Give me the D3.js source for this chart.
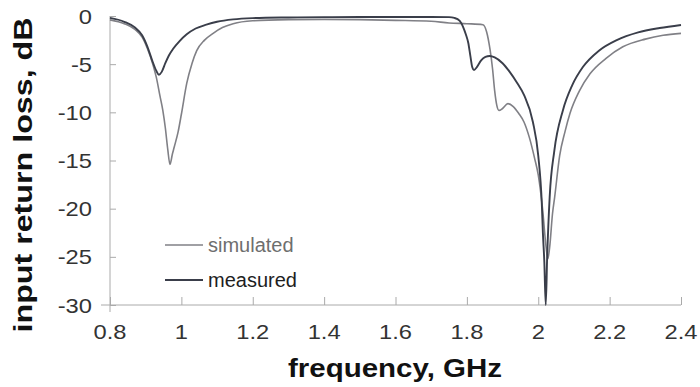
<!DOCTYPE html>
<html>
<head>
<meta charset="utf-8">
<script src="https://cdn.jsdelivr.net/npm/d3@7"></script>
<style>
  html, body { margin: 0; padding: 0; background: #fff; }
  svg { display: block; }
  text { font-family: "Liberation Sans", Arial, Helvetica, sans-serif; }
</style>
</head>
<body>
<svg id="chart" width="700" height="387"></svg>
<script>
// Input return loss (dB) versus frequency (GHz)
const simFreq = [0.80, 0.84, 0.87, 0.89, 0.905, 0.92, 0.93, 0.94, 0.948, 0.955, 0.962, 0.968,
  0.975, 0.98, 0.991, 1.0, 1.015, 1.03, 1.043, 1.065, 1.089, 1.115, 1.145, 1.2, 1.3, 1.4, 1.5,
  1.6, 1.7, 1.75, 1.8, 1.845, 1.855, 1.865, 1.872, 1.878, 1.884, 1.89, 1.90, 1.915, 1.93, 1.945,
  1.96, 1.975, 1.99, 2.0, 2.012, 2.022, 2.027, 2.032, 2.04, 2.046, 2.06, 2.075, 2.089, 2.115,
  2.145, 2.19, 2.237, 2.3, 2.35, 2.4];
const simValues = [-0.4, -0.8, -1.4, -2.2, -3.4, -5.0, -6.4, -8.3, -9.8, -11.6, -13.9, -15.4,
  -14.3, -13.6, -12.0, -10.2, -7.0, -4.9, -3.6, -2.5, -1.8, -1.2, -0.8, -0.5, -0.38, -0.35, -0.38,
  -0.45, -0.55, -0.72, -0.8, -0.9, -1.6, -3.5, -5.5, -7.8, -9.3, -9.8, -9.6, -9.1, -9.4, -10.1,
  -11.0, -12.6, -14.8, -16.5, -20, -24, -25.2, -24, -20.5, -18.8, -14.5, -12, -10.1, -7.8,
  -6.0, -4.4, -3.2, -2.4, -2.0, -1.8];

const measFreq = [0.80, 0.84, 0.87, 0.89, 0.905, 0.92, 0.93, 0.937, 0.945, 0.955, 0.965, 0.977,
  0.995, 1.015, 1.04, 1.07, 1.10, 1.145, 1.20, 1.30, 1.40, 1.50, 1.60, 1.70, 1.75, 1.765, 1.78,
  1.789, 1.797, 1.804, 1.81, 1.815, 1.82, 1.828, 1.84, 1.852, 1.864, 1.878, 1.90, 1.92, 1.94,
  1.96, 1.985, 2.0, 2.01, 2.013, 2.017, 2.021, 2.025, 2.032, 2.045, 2.069, 2.095, 2.125, 2.17,
  2.22, 2.28, 2.34, 2.4];
const measValues = [-0.2, -0.6, -1.2, -2.0, -3.2, -4.8, -5.7, -6.1, -5.8, -4.9, -4.1, -3.4,
  -2.6, -1.9, -1.3, -0.9, -0.6, -0.35, -0.22, -0.15, -0.12, -0.1, -0.1, -0.1, -0.12, -0.2, -0.5,
  -1.1, -1.9, -2.8, -4.2, -5.3, -5.6, -5.3, -4.6, -4.25, -4.15, -4.3, -4.9, -5.8, -6.9,
  -8.2, -11, -14.5, -19.5, -22.5, -25.5, -30, -25, -18.8, -14, -9.8, -7.2, -5.3, -3.6,
  -2.5, -1.7, -1.25, -0.93];

const xTicks = [0.8, 1, 1.2, 1.4, 1.6, 1.8, 2, 2.2, 2.4];
const yTicks = [0, -5, -10, -15, -20, -25, -30];
const seriesNames = ["simulated", "measured"];

const svg = d3.select("#chart");
const x = d3.scaleLinear().domain([0.8, 2.4]).range([110, 681]);
const y = d3.scaleLinear().domain([-30, 0]).range([305, 16]);

const axisColor = "#aaaaaa";
const tickColor = "#333333";
const labelStretch = 1.13;

// x axis: ticks pointing up into the plot
const xAxis = svg.append("g")
  .attr("transform", `translate(0,${y(-30)})`)
  .call(d3.axisTop(x).tickValues(xTicks).tickSize(8).tickSizeOuter(0).tickFormat(d3.format("")));
xAxis.select(".domain").remove();
xAxis.selectAll(".tick line").attr("stroke", axisColor);
xAxis.selectAll(".tick text").remove();
svg.append("line")
  .attr("x1", 101).attr("x2", x(2.4)).attr("y1", y(-30)).attr("y2", y(-30))
  .attr("stroke", axisColor);
svg.append("g").selectAll("text").data(xTicks).join("text")
  .attr("transform", d => `translate(${x(d)},339) scale(${labelStretch},1)`)
  .attr("text-anchor", "middle")
  .attr("font-size", 21).attr("fill", tickColor)
  .text(d3.format(""));

// y axis: crossing ticks
const yAxis = svg.append("g")
  .attr("transform", `translate(${x(0.8)},0)`)
  .call(d3.axisLeft(y).tickValues(yTicks).tickSize(7).tickSizeOuter(0));
yAxis.select(".domain").remove();
yAxis.selectAll(".tick line").attr("stroke", axisColor).attr("x2", 6);
yAxis.selectAll(".tick text").remove();
svg.append("line")
  .attr("x1", x(0.8)).attr("x2", x(0.8)).attr("y1", y(0)).attr("y2", 312)
  .attr("stroke", axisColor);
svg.append("g").selectAll("text").data(yTicks).join("text")
  .attr("transform", d => `translate(92,${y(d) + 7.5}) scale(${labelStretch},1)`)
  .attr("text-anchor", "end")
  .attr("font-size", 21).attr("fill", tickColor)
  .text(d => d === 0 ? "0" : "-" + Math.abs(d));

// curves
const line = d3.line()
  .x(d => x(d[0])).y(d => y(d[1]))
  .curve(d3.curveMonotoneX);

const simData = simFreq.map((f, i) => [f, simValues[i]]);
const measData = measFreq.map((f, i) => [f, measValues[i]]);

const colors = { simulated: "#808086", measured: "#3a3e4a" };
const widths = { simulated: 1.6, measured: 1.9 };

svg.append("path").datum(simData)
  .attr("d", line).attr("fill", "none")
  .attr("stroke", colors.simulated).attr("stroke-width", widths.simulated);
svg.append("path").datum(measData)
  .attr("d", line).attr("fill", "none")
  .attr("stroke", colors.measured).attr("stroke-width", widths.measured);

// legend
const legendRows = [
  { name: seriesNames[0], y: 245, text: "#6e6e6e" },
  { name: seriesNames[1], y: 280, text: "#1e1e1e" }
];
const legend = svg.append("g");
legendRows.forEach(r => {
  legend.append("line")
    .attr("x1", 165).attr("x2", 203).attr("y1", r.y).attr("y2", r.y)
    .attr("stroke", colors[r.name]).attr("stroke-width", widths[r.name]);
  legend.append("text")
    .attr("x", 208).attr("y", r.y + 7)
    .attr("font-size", 20).attr("fill", r.text)
    .text(r.name);
});

// axis titles
svg.append("text")
  .attr("x", 395).attr("y", 377)
  .attr("text-anchor", "middle")
  .attr("font-size", 25).attr("font-weight", "bold").attr("fill", "#111")
  .attr("textLength", 214).attr("lengthAdjust", "spacingAndGlyphs")
  .text("frequency, GHz");

svg.append("text")
  .attr("transform", "translate(32,175) rotate(-90)")
  .attr("text-anchor", "middle")
  .attr("font-size", 26).attr("font-weight", "bold").attr("fill", "#111")
  .attr("textLength", 315).attr("lengthAdjust", "spacingAndGlyphs")
  .text("input return loss, dB");
</script>
</body>
</html>
